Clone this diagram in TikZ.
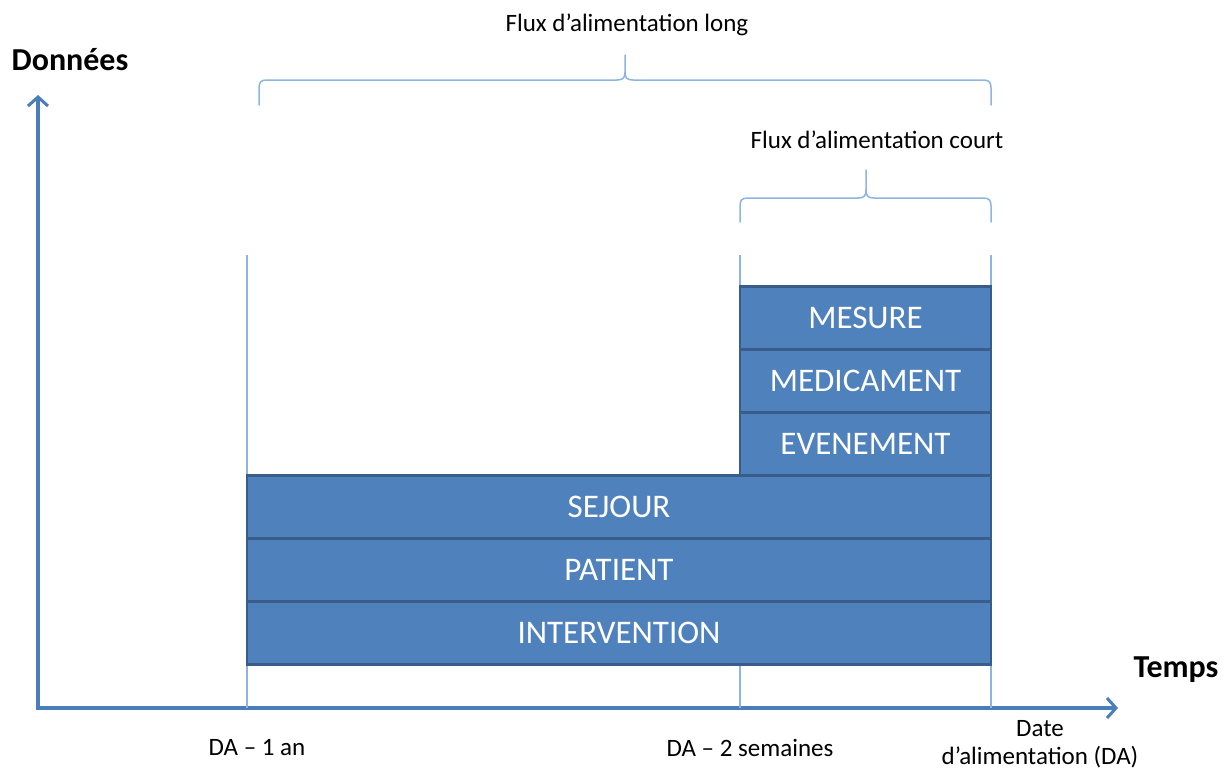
\documentclass[tikz,border=0pt]{standalone}
\usepackage{fontspec}
\setmainfont{Carlito}
\usetikzlibrary{positioning,arrows.meta}
\definecolor{box-fill}{HTML}{4F81BD}
\definecolor{box-draw}{HTML}{385D8A}
\definecolor{axis-blue}{HTML}{4A7EBB}
\definecolor{guide-blue}{HTML}{8DB4E2}

\begin{document}
\begin{tikzpicture}[x=1pt,y=-1pt,
  table/.style={draw=box-draw, fill=box-fill, line width=2.5pt, text=white,
    font=\fontsize{33}{40}\selectfont, minimum height=63pt, inner sep=0pt, outer sep=0pt},
  axis/.style={draw=axis-blue, line width=3.5pt,
    {Straight Barb[length=9pt,width=20pt,line width=3pt]}-{Straight Barb[length=9pt,width=20pt,line width=3pt]}},
  guide/.style={draw=guide-blue, line width=1.5pt},
  brace line/.style={draw=guide-blue, line width=1.5pt, line cap=round},
  axis label/.style={font=\fontsize{32}{38}\selectfont\bfseries},
  time label/.style={font=\fontsize{25}{28}\selectfont, align=center}]
\useasboundingbox (0,0) rectangle (1228,771);

% axes
\coordinate (origin) at (38,708);
\coordinate (ytip) at (38,95);
\coordinate (xtip) at (1118,708);
\draw[axis] (ytip) -- (origin) -- (xtip);
\node[axis label] (donnees) at (70,60) {Données};
\node[axis label] (temps) at (1176,670) {Temps};

% guide lines
\coordinate (an-bas) at (247,708);
\coordinate (an-haut) at (247,255);
\coordinate (sem-bas) at (740,708);
\coordinate (sem-haut) at (740,255);
\coordinate (da-bas) at (991,708);
\coordinate (da-haut) at (991,255);
\draw[guide] (an-bas) -- (an-haut);
\draw[guide] (sem-bas) -- (sem-haut);
\draw[guide] (da-bas) -- (da-haut);

% data blocks
\node[table, minimum width=744pt] (intervention) at (619,633) {INTERVENTION};
\node[table, minimum width=744pt, above=0pt of intervention] (patient) {PATIENT};
\node[table, minimum width=744pt, above=0pt of patient] (sejour) {SEJOUR};
\node[table, minimum width=251pt, above left=0pt and 0pt of sejour.north east] (evenement) {EVENEMENT};
\node[table, minimum width=251pt, above=0pt of evenement] (medicament) {MEDICAMENT};
\node[table, minimum width=251pt, above=0pt of medicament] (mesure) {MESURE};

% braces
\draw[brace line] (259,105) -- (259,88) .. controls (259,82) and (261,80) .. (267,80) -- (617,80)
  .. controls (623,80) and (625,78) .. (625,72) -- (625,55);
\draw[brace line] (991,105) -- (991,88) .. controls (991,82) and (989,80) .. (983,80) -- (633,80)
  .. controls (627,80) and (625,78) .. (625,72);
\draw[brace line] (740,222) -- (740,206) .. controls (740,200) and (742,198) .. (748,198) -- (858,198)
  .. controls (864,198) and (866,196) .. (866,190) -- (866,170);
\draw[brace line] (991,222) -- (991,206) .. controls (991,200) and (989,198) .. (983,198) -- (874,198)
  .. controls (868,198) and (866,196) .. (866,190);
\node[time label] (flux-long) at (627,25) {Flux d’alimentation long};
\node[time label] (flux-court) at (877,140) {Flux d’alimentation court};

% time labels
\node[time label] (da-an) at (257,748) {DA -- 1 an};
\node[time label] (da-sem) at (750,748) {DA -- 2 semaines};
\node[time label] (da) at (1040,744) {Date\\d’alimentation (DA)};
\end{tikzpicture}
\end{document}
